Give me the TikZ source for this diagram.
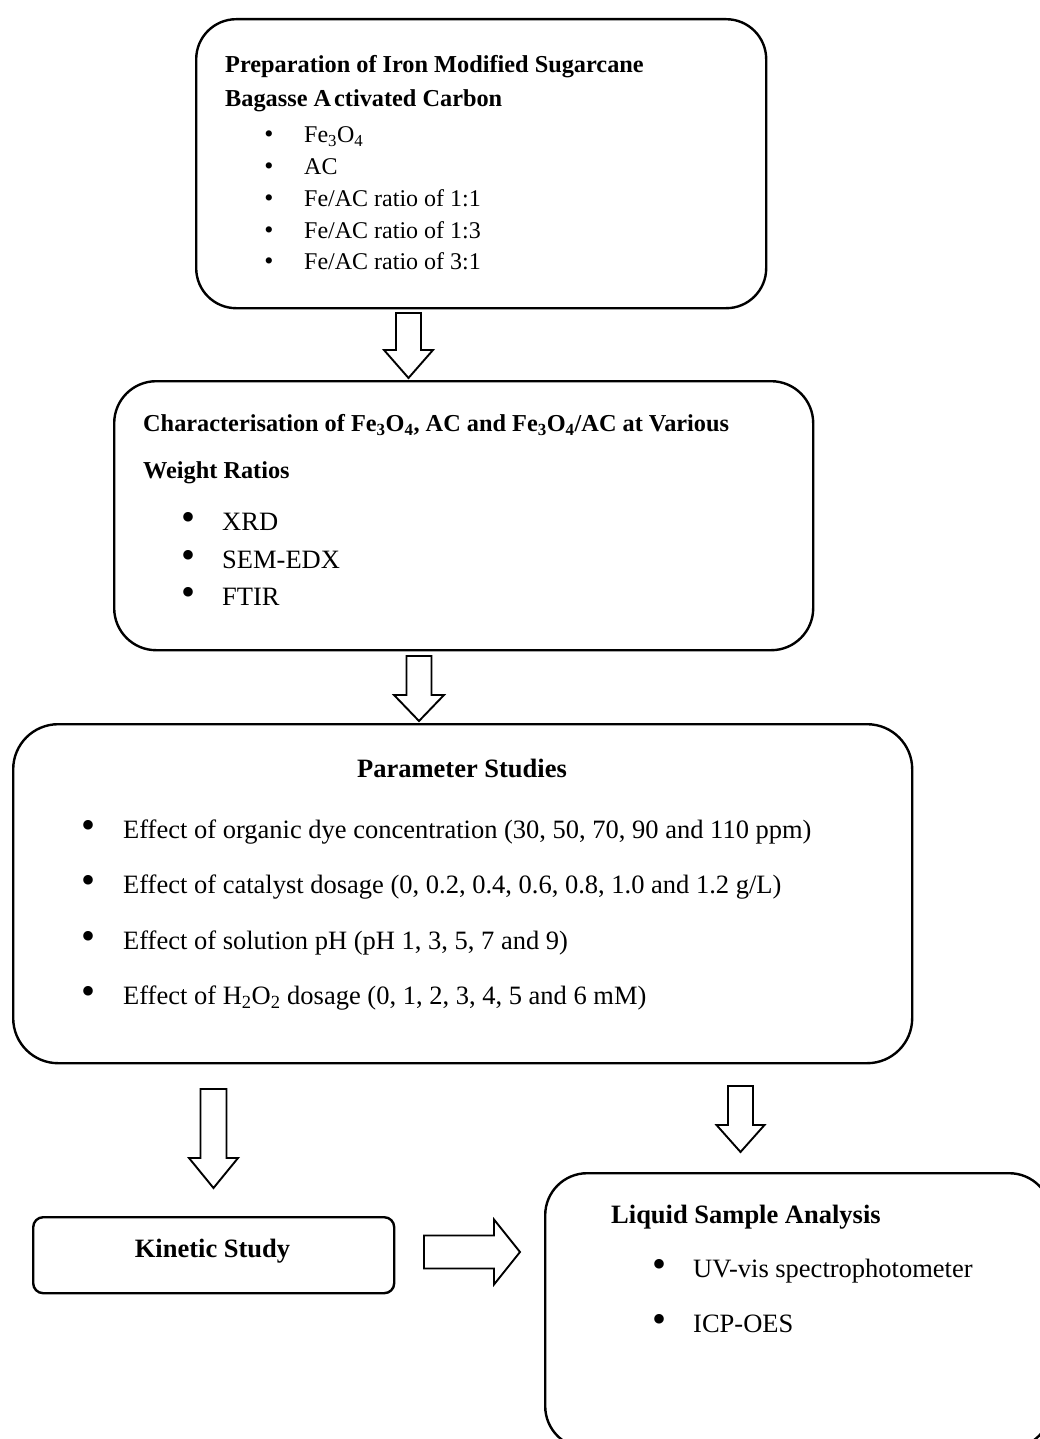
\documentclass[tikz,border=0pt]{standalone}
\usepackage{fontspec}
\setmainfont{Liberation Serif}
\usetikzlibrary{calc}
\newcommand\blockarrow[5]{%
  \coordinate (ba-n) at ($(#2)!#5!(#1)$);
  \draw[blockarr] ($(#1)!#3!90:(#2)$) -- ($(ba-n)!#3!90:(#2)$) -- ($(ba-n)!#4!90:(#2)$) -- (#2) -- ($(ba-n)!#4!-90:(#2)$) -- ($(ba-n)!#3!-90:(#2)$) -- ($(#1)!#3!-90:(#2)$) -- cycle;}
\tikzset{
  box/.style={draw, line width=2.4pt, rounded corners=#1, inner sep=0pt, anchor=north west},
  blockarr/.style={draw, line width=1.9pt, line join=miter, fill=white},
  txt/.style={inner sep=0pt, anchor=base west},
  ttlA/.style={txt, font=\fontsize{24.3}{28}\selectfont\bfseries},
  bodyA/.style={txt, font=\fontsize{24}{28}\selectfont},
  ttlB/.style={txt, font=\fontsize{26.5}{30}\selectfont\bfseries},
  bodyB/.style={txt, font=\fontsize{26.5}{30}\selectfont},
  bulA/.style={inner sep=0pt, anchor=base, font=\fontsize{26}{28}\selectfont},
  bulB/.style={inner sep=0pt, anchor=base, font=\fontsize{40}{42}\selectfont},
}
\begin{document}
\begin{tikzpicture}[x=1pt,y=-1pt]
\useasboundingbox (0,0) rectangle (1040,1439);
\clip (0,0) rectangle (1040,1439);
\fill[white] (0,0) rectangle (1040,1439);

% boxes
\node[box=40pt, minimum width=570pt, minimum height=289pt] (b1) at (195,18) {};
\node[box=42pt, minimum width=699pt, minimum height=269pt] (b2) at (113,380) {};
\node[box=45pt, minimum width=899pt, minimum height=339pt] (b3) at (12,723) {};
\node[box=10pt, minimum width=361pt, minimum height=76pt] (b4) at (32,1216) {};
\node[box=42pt, minimum width=506pt, minimum height=275pt] (b5) at (544,1172) {};

% box 1 text
\node[ttlA] (t1a) at (225,73) {Preparation of Iron Modified Sugarcane};
\node[ttlA] (t1b) at (225,107) {Bagasse A\kern3pt ctivated Carbon};
\foreach \y/\t [count=\i] in {143/{Fe\textsubscript{3}O\textsubscript{4}},174.7/{AC},206.4/{Fe/AC ratio of 1:1},238.1/{Fe/AC ratio of 1:3},269.8/{Fe/AC ratio of 3:1}}{
  \node[bulA] (p1\i) at (269,\y) {\textbullet};
  \node[bodyA] (i1\i) at (304,\y) {\t};
}

% box 2 text
\node[ttlA] (t2a) at (143,431.5) {Characterisation of Fe\textsubscript{3}O\textsubscript{4}, AC and Fe\textsubscript{3}O\textsubscript{4}/AC at Various};
\node[ttlA] (t2b) at (143,478) {Weight Ratios};
\foreach \y/\t [count=\i] in {530.5/{XRD},568.5/{SEM-EDX},605.8/{FTIR}}{
  \node[bulB] (p2\i) at (188,\y) {\textbullet};
  \node[bodyB] (i2\i) at (222,\y) {\t};
}

% box 3 text
\node[ttlB, anchor=base] (t3a) at (462,777.5) {Parameter Studies};
\foreach \y/\t [count=\i] in {838/{Effect of organic dye concentration (30, 50, 70, 90 and 110 ppm)},893.5/{Effect of catalyst dosage (0, 0.2, 0.4, 0.6, 0.8, 1.0 and 1.2 g/L)},949/{Effect of solution pH (pH 1, 3, 5, 7 and 9)},1004.5/{Effect of H\textsubscript{2}O\textsubscript{2} dosage (0, 1, 2, 3, 4, 5 and 6 mM)}}{
  \node[bulB] (p3\i) at (89,\y) {\textbullet};
  \node[bodyB] (i3\i) at (123,\y) {\t};
}

% box 4 text
\node[ttlB, anchor=base] (t4a) at (212.5,1257) {Kinetic Study};

% box 5 text
\node[ttlB] (t5a) at (611,1223) {Liquid Sample Analysis};
\foreach \y/\t [count=\i] in {1277/{UV-vis spectrophotometer},1332/{ICP-OES}}{
  \node[bulB] (p5\i) at (659,\y) {\textbullet};
  \node[bodyB] (i5\i) at (693,\y) {\t};
}

% block arrows
\coordinate (a1s) at (408.5,313);  \coordinate (a1e) at (408.5,378);
\coordinate (a2s) at (419,656);    \coordinate (a2e) at (419,721);
\coordinate (a3s) at (213.5,1089); \coordinate (a3e) at (213.5,1188);
\coordinate (a4s) at (740.5,1086); \coordinate (a4e) at (740.5,1152);
\coordinate (a5s) at (424,1252);   \coordinate (a5e) at (520,1252);
\blockarrow{a1s}{a1e}{12.5pt}{24.5pt}{28pt}
\blockarrow{a2s}{a2e}{12.5pt}{25pt}{26pt}
\blockarrow{a3s}{a3e}{13pt}{24.5pt}{30pt}
\blockarrow{a4s}{a4e}{12.5pt}{24pt}{27pt}
\blockarrow{a5s}{a5e}{16.5pt}{32.5pt}{26pt}
\end{tikzpicture}
\end{document}
